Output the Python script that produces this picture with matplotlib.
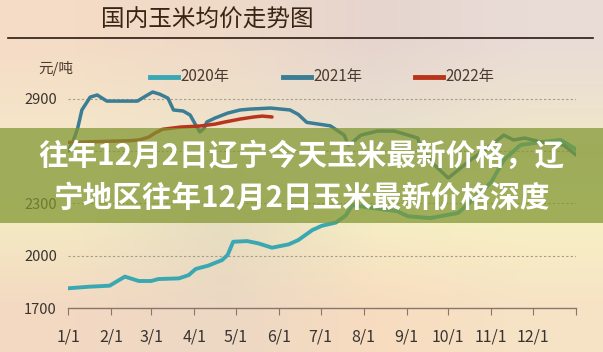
import numpy as np
import matplotlib
matplotlib.use('Agg')
import matplotlib.pyplot as plt
from matplotlib.colors import to_rgb
from matplotlib.patches import Rectangle
from matplotlib.lines import Line2D

# --- DATA (day of year -> 元/吨) ---
month_labels = ['1/1', '2/1', '3/1', '4/1', '5/1', '6/1', '7/1', '8/1', '9/1', '10/1', '11/1', '12/1']
month_starts = [0, 31, 60, 91, 121, 152, 182, 213, 244, 274, 305, 335]
y_ticks = [1700, 2000, 2300, 2600, 2900]
y_labels = ['1700', '2000', '2300', '', '2900']   # 2600 sits under the banner

days_2020 = [0, 15, 30, 41, 51, 60, 65, 80, 87, 92, 101, 111, 115, 119, 129, 137, 147, 159, 166, 176,
             183, 193, 200, 205, 218, 237, 245, 261, 281, 290, 305, 314, 326, 341, 355, 366]
price_2020 = [1813, 1822, 1828, 1880, 1855, 1855, 1866, 1870, 1889, 1924, 1943, 1975, 2004, 2080, 2084,
              2071, 2046, 2065, 2090, 2147, 2172, 2190, 2230, 2290, 2275, 2256, 2226, 2216, 2245, 2308,
              2423, 2549, 2635, 2652, 2664, 2610]

days_2021 = [0, 4, 7, 10, 16, 21, 28, 38, 50, 56, 61, 66, 72, 76, 83, 88, 92, 95, 98, 100,
             106, 115, 124, 131, 146, 160, 166, 172, 189, 199, 202, 206, 211, 223, 235, 245, 252, 254,
             264, 274, 290, 305, 314, 321, 329, 341, 357, 366]
price_2021 = [2600, 2664, 2732, 2836, 2910, 2922, 2887, 2887, 2887, 2916, 2939, 2927, 2904, 2836, 2830,
              2807, 2750, 2710, 2730, 2767, 2790, 2818, 2836, 2841, 2847, 2836, 2810, 2765, 2745, 2692,
              2635, 2658, 2692, 2715, 2715, 2692, 2675, 2618, 2520, 2446, 2549, 2635, 2692, 2664, 2675,
              2652, 2635, 2578]

days_2022 = [0, 23, 45, 52, 58, 63, 68, 81, 95, 106, 113, 124, 134, 140, 147]
price_2022 = [2650, 2655, 2660, 2665, 2680, 2705, 2725, 2738, 2744, 2755, 2767, 2784, 2796, 2801, 2796]

series_names = ['2020年', '2021年', '2022年']
series_colors = ['#3aa8b3', '#3a7d94', '#b8351c']

banner_lines = ['往年12月2日辽宁今天玉米最新价格，辽', '宁地区往年12月2日玉米最新价格深度']

W, H = 603, 352
NARROW = ['Liberation Sans Narrow', 'Noto Sans CJK SC', 'DejaVu Sans']
CJK = ['Noto Sans CJK SC', 'DejaVu Sans']

fig = plt.figure(figsize=(W / 100, H / 100), dpi=100)

# --- background wash ---
bg = fig.add_axes([0, 0, 1, 1], zorder=-1)
grid = [
    ['#f4dcc6', '#efdac8', '#e6d5cf', '#e9dcd6'],
    ['#f5e6c9', '#eee3cb', '#e9e0cf', '#efe6cb'],
    ['#f4eac3', '#e6ddc0', '#f6eec4', '#f8f0c4'],
    ['#f3d9c2', '#ecd8c4', '#f8dcc0', '#f6e3c6'],
]
bg.imshow(np.array([[to_rgb(c) for c in row] for row in grid]), extent=[0, 1, 0, 1],
          aspect='auto', interpolation='bilinear')
bg.axis('off')

# --- main chart ---
ax = fig.add_axes([68 / W, 44 / H, 508 / W, 226.6 / H])
ax.set_facecolor('none')
ax.set_xlim(0, 366)
ax.set_ylim(1700, 3000)

for v in y_ticks[1:]:
    ax.axhline(v, color='#a49c8a', lw=0.8, ls=(0, (2, 2)), zorder=1)

ax.plot(days_2020, price_2020, color=series_colors[0], lw=2.8, zorder=3, solid_capstyle='round')
ax.plot(days_2021, price_2021, color=series_colors[1], lw=2.5, zorder=3, solid_capstyle='round')
ax.plot(days_2022, price_2022, color=series_colors[2], lw=2.5, zorder=4, solid_capstyle='round')

for s in ['top', 'right', 'left']:
    ax.spines[s].set_visible(False)
ax.spines['bottom'].set_color('#86776a')
ax.spines['bottom'].set_linewidth(1.0)

ax.set_xticks(month_starts + [366])
ax.set_xticklabels(month_labels + [''], family=NARROW, fontsize=11.5, color='#3a3430')
ax.tick_params(axis='x', direction='out', length=5, color='#86776a', pad=10)
ax.set_yticks(y_ticks)
ax.set_yticklabels(y_labels, family=NARROW, fontsize=10.5, color='#3a3430')
ax.tick_params(axis='y', length=0, pad=8)

# legend, placed by hand (swatch start, text start in pixels)
legend_x = [150, 283, 415]
legend_y = 1 - 77 / H
for x0, name, color in zip(legend_x, series_names, series_colors):
    fig.add_artist(Line2D([x0 / W, (x0 + 28) / W], [legend_y, legend_y],
                          transform=fig.transFigure, color=color, lw=3.5))
    fig.text((x0 + 30) / W, legend_y, name, ha='left', va='center', fontsize=11,
             color='#4a3a30', family=NARROW)

# --- header ---
fig.text(207 / W, 1 - 20 / H, '国内玉米均价走势图', ha='center', va='center',
         fontsize=17, color='#3a2414', family=CJK)
fig.add_artist(Line2D([8 / W, 593 / W], [1 - 38 / H] * 2, transform=fig.transFigure,
                      color='#2a1a10', lw=1.2))
fig.text(56 / W, 1 - 68 / H, '元/吨', ha='center', va='center', fontsize=10.5,
         color='#4a3a30', family=NARROW)

# --- overlay banner ---
fig.add_artist(Rectangle((0, (H - 223) / H), 1, 95 / H, transform=fig.transFigure,
                         facecolor='#7f9630', edgecolor='none', alpha=0.72, zorder=5))
fig.text(0.5, 1 - 156 / H, banner_lines[0], ha='center', va='center', fontsize=21.3,
         fontweight='bold', color='white', family=CJK, zorder=6)
fig.text(0.5, 1 - 198 / H, banner_lines[1], ha='center', va='center', fontsize=21.3,
         fontweight='bold', color='white', family=CJK, zorder=6)

fig.savefig('out.png', dpi=100)
